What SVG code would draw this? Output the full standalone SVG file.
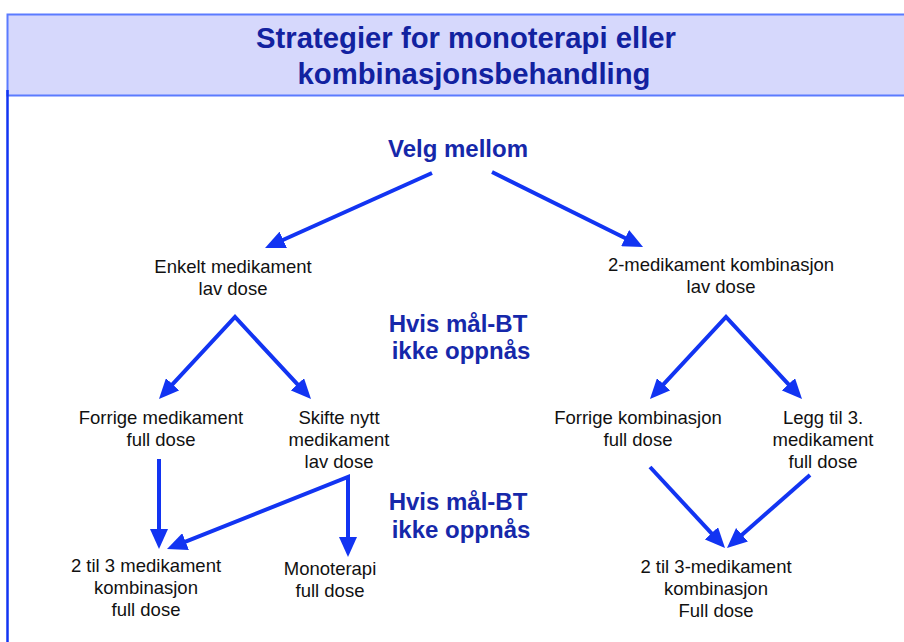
<svg xmlns="http://www.w3.org/2000/svg" width="904" height="642" viewBox="0 0 904 642">
<style>
.hdr{font-family:"Liberation Sans",Arial,sans-serif;font-weight:bold;font-size:29px;fill:#1222A0;text-anchor:middle}
.blu{font-family:"Liberation Sans",Arial,sans-serif;font-weight:bold;font-size:24px;fill:#1628AA;text-anchor:middle}
.lbl{font-family:"Liberation Sans",Arial,sans-serif;font-size:18.5px;fill:#111;text-anchor:middle}
.con{fill:none;stroke:#1234F2;stroke-width:4;stroke-linejoin:miter;marker-end:url(#ah)}
.two{marker-start:url(#ah)}
</style>
<defs>
<marker id="ah" viewBox="0 0 20 18" refX="6" refY="9" markerWidth="20" markerHeight="18" markerUnits="userSpaceOnUse" orient="auto-start-reverse">
<path d="M0,0 L20,9 L0,18 z" fill="#1234F2"/>
</marker>
</defs>
<rect width="904" height="642" fill="#fff"/>
<g id="header">
<rect x="7.5" y="14.5" width="900" height="81" fill="#D6D8FC" stroke="#5B7BFF" stroke-width="2"/>
<line x1="7.5" y1="90" x2="7.5" y2="642" stroke="#1234F2" stroke-width="2.5"/>
<text class="hdr" x="466" y="48" textLength="420" lengthAdjust="spacingAndGlyphs">Strategier for monoterapi eller</text>
<text class="hdr" x="474" y="84" textLength="353" lengthAdjust="spacingAndGlyphs">kombinasjonsbehandling</text>
</g>
<g id="velg"><text class="blu" x="458" y="157" font-size="25">Velg mellom</text></g>
<g id="hvis1"><text class="blu" x="458" y="332">Hvis mål-BT</text><text class="blu" x="461" y="359">ikke oppnås</text></g>
<g id="hvis2"><text class="blu" x="458" y="510">Hvis mål-BT</text><text class="blu" x="461" y="538">ikke oppnås</text></g>
<g id="enkelt"><text class="lbl" x="233" y="273">Enkelt medikament</text><text class="lbl" x="233" y="295">lav dose</text></g>
<g id="tomed"><text class="lbl" x="721" y="271">2-medikament kombinasjon</text><text class="lbl" x="721" y="293">lav dose</text></g>
<g id="forrigemed"><text class="lbl" x="161" y="424">Forrige medikament</text><text class="lbl" x="161" y="446">full dose</text></g>
<g id="skifte"><text class="lbl" x="339" y="424">Skifte nytt</text><text class="lbl" x="339" y="446">medikament</text><text class="lbl" x="339" y="468">lav dose</text></g>
<g id="forrigekomb"><text class="lbl" x="638" y="424">Forrige kombinasjon</text><text class="lbl" x="638" y="446">full dose</text></g>
<g id="legg"><text class="lbl" x="823" y="424">Legg til 3.</text><text class="lbl" x="823" y="446">medikament</text><text class="lbl" x="823" y="468">full dose</text></g>
<g id="totre"><text class="lbl" x="146" y="572">2 til 3 medikament</text><text class="lbl" x="146" y="594">kombinasjon</text><text class="lbl" x="146" y="616">full dose</text></g>
<g id="mono"><text class="lbl" x="330" y="575">Monoterapi</text><text class="lbl" x="330" y="597">full dose</text></g>
<g id="totrekomb"><text class="lbl" x="716" y="573">2 til 3-medikament</text><text class="lbl" x="716" y="595">kombinasjon</text><text class="lbl" x="716" y="617">Full dose</text></g>
<g id="connectors">
<path class="con" d="M432,173 L277.8,242.3"/>
<path class="con" d="M492,172 L630.5,240.8"/>
<path class="con two" d="M168.5,388.7 L235,317 L301.5,388.7"/>
<path class="con two" d="M659.5,388.7 L726,317 L792.5,388.7"/>
<path class="con" d="M159,459 L159,535"/>
<path class="con two" d="M180,543.8 L348,477 L348,543"/>
<path class="con" d="M650,467 L715.5,537.7"/>
<path class="con" d="M810,475 L737.5,538.7"/>
</g>
</svg>
